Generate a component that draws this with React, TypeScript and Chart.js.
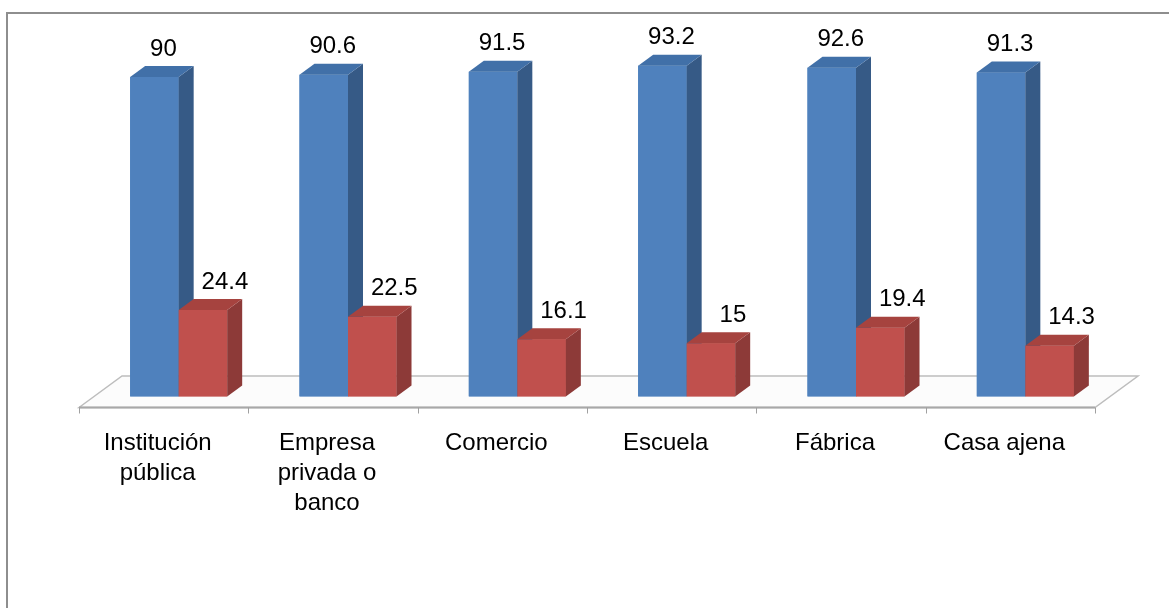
import React, { useEffect, useRef } from "react";
import { Chart, registerables } from "chart.js";

Chart.register(...registerables);

const categories: (string | string[])[] = [
  ["Institución", "pública"],
  ["Empresa", "privada o", "banco"],
  "Comercio",
  "Escuela",
  "Fábrica",
  "Casa ajena",
];
const seriesBlue = [90, 90.6, 91.5, 93.2, 92.6, 91.3];
const seriesRed = [24.4, 22.5, 16.1, 15, 19.4, 14.3];

const FONT = "'Liberation Sans', Arial, sans-serif";
const DX = 15;
const DY = 11;

const faceColors = [
  { front: "#4f81bd", side: "#365a86", top: "#4170a8" },
  { front: "#c0504d", side: "#8d3a38", top: "#a6433f" },
];
const labelShift = [9, 22];

const threeD = {
  id: "threeD",
  beforeDatasetsDraw(chart: any) {
    const { ctx, scales } = chart;
    const xs = scales.x;
    const base = scales.y.getPixelForValue(0);
    const left = xs.left;
    const right = xs.right;
    const fx = -15, fy = 11;
    const bx = 28, by = -20.5;
    ctx.save();
    ctx.beginPath();
    ctx.moveTo(left + fx, base + fy);
    ctx.lineTo(left + bx, base + by);
    ctx.lineTo(right + bx, base + by);
    ctx.lineTo(right + fx, base + fy);
    ctx.closePath();
    ctx.fillStyle = "#fcfcfc";
    ctx.fill();
    ctx.strokeStyle = "#bdbdbd";
    ctx.lineWidth = 1.5;
    ctx.stroke();
    ctx.beginPath();
    ctx.moveTo(left + fx, base + fy);
    ctx.lineTo(right + fx, base + fy);
    ctx.strokeStyle = "#a8a8a8";
    ctx.lineWidth = 2;
    ctx.stroke();
    const n = categories.length;
    const cw = (right - left) / n;
    ctx.strokeStyle = "#a0a0a0";
    ctx.lineWidth = 1;
    for (let i = 0; i <= n; i++) {
      const x = Math.round(left + i * cw + fx) + 0.5;
      ctx.beginPath();
      ctx.moveTo(x, base + fy);
      ctx.lineTo(x, base + fy + 6);
      ctx.stroke();
    }
    ctx.restore();
  },
  afterDatasetsDraw(chart: any) {
    const { ctx } = chart;
    ctx.save();
    [0, 1].forEach((d) => {
      const meta = chart.getDatasetMeta(d);
      const c = faceColors[d];
      meta.data.forEach((bar: any) => {
        const { x, y, base, width } = bar.getProps(["x", "y", "base", "width"], true);
        const l = x - width / 2;
        const r = x + width / 2;
        bar.draw(ctx);
        ctx.fillStyle = c.side;
        ctx.beginPath();
        ctx.moveTo(r, y);
        ctx.lineTo(r + DX, y - DY);
        ctx.lineTo(r + DX, base - DY);
        ctx.lineTo(r, base);
        ctx.closePath();
        ctx.fill();
        ctx.fillStyle = c.top;
        ctx.beginPath();
        ctx.moveTo(l, y);
        ctx.lineTo(l + DX, y - DY);
        ctx.lineTo(r + DX, y - DY);
        ctx.lineTo(r, y);
        ctx.closePath();
        ctx.fill();
      });
    });
    ctx.fillStyle = "#000";
    ctx.font = `24px ${FONT}`;
    ctx.textAlign = "center";
    ctx.textBaseline = "middle";
    [0, 1].forEach((d) => {
      const meta = chart.getDatasetMeta(d);
      const values = d === 0 ? seriesBlue : seriesRed;
      meta.data.forEach((bar: any, i: number) => {
        const { x, y } = bar.getProps(["x", "y"], true);
        ctx.fillText(String(values[i]), x + labelShift[d], y - 28);
      });
    });
    ctx.restore();
  },
};

export default function App() {
  const ref = useRef<HTMLCanvasElement>(null);
  useEffect(() => {
    if (!ref.current) return;
    const chart = new Chart(ref.current, {
      type: "bar",
      data: {
        labels: categories as any,
        datasets: [
          {
            label: "A",
            data: seriesBlue,
            backgroundColor: faceColors[0].front,
            barPercentage: 1,
            categoryPercentage: 0.573,
          },
          {
            label: "B",
            data: seriesRed,
            backgroundColor: faceColors[1].front,
            barPercentage: 1,
            categoryPercentage: 0.573,
          },
        ],
      },
      options: {
        animation: false,
        responsive: false,
        devicePixelRatio: 1,
        layout: { padding: { left: 94, right: 59, top: 41.5, bottom: 0 } },
        plugins: {
          legend: { display: false },
          tooltip: { enabled: false },
        },
        scales: {
          x: {
            grid: { display: false, drawTicks: false },
            border: { display: false },
            ticks: {
              padding: 32,
              labelOffset: -21,
              maxRotation: 0,
              autoSkip: false,
              color: "#000",
              font: { family: FONT, size: 24, lineHeight: 1.25 },
            },
            afterFit: (scale: any) => {
              scale.height = 211.5;
            },
          },
          y: {
            display: false,
            min: 0,
            max: 100,
          },
        },
      },
      plugins: [threeD],
    });
    return () => chart.destroy();
  }, []);
  return (
    <div
      style={{
        position: "fixed",
        left: 0,
        top: 0,
        width: 1169,
        height: 608,
        overflow: "hidden",
        background: "#fff",
      }}
    >
      <canvas ref={ref} width={1169} height={608} style={{ position: "absolute", left: 0, top: 0 }} />
      <div
        style={{
          position: "absolute",
          left: 6,
          top: 12,
          width: 1300,
          height: 800,
          border: "2px solid #8e8e8e",
          pointerEvents: "none",
        }}
      />
    </div>
  );
}
